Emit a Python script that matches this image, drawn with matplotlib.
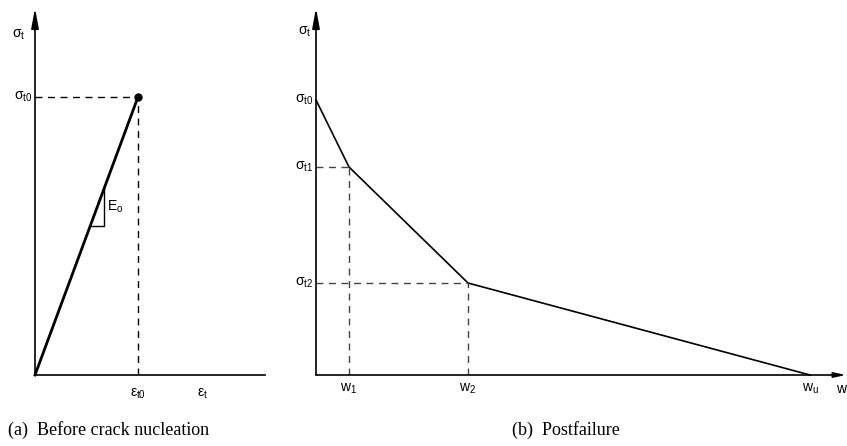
import matplotlib.pyplot as plt

plt.rcParams['mathtext.fontset'] = 'custom'
plt.rcParams['mathtext.rm'] = 'Liberation Sans'
plt.rcParams['mathtext.it'] = 'Liberation Sans'

W, H = 847, 446

# (a) linear branch before crack nucleation
eps_a = [0, 1.0]
sig_a = [0, 1.0]

# (b) trilinear softening curve (crack opening w vs stress)
w_b = [0, 33, 152, 494]
sig_b = [275, 208, 92, 0]
w_labels = [r'$\mathrm{w}_1$', r'$\mathrm{w}_2$', r'$\mathrm{w}_u$']
sig_labels = [r'$\sigma_{t0}$', r'$\sigma_{t1}$', r'$\sigma_{t2}$']

fig = plt.figure(figsize=(W / 100, H / 100), dpi=100)


def px_axes(x0, x1, y_top, y_bot):
	# axes placed by pixel box, origin at lower left
	return fig.add_axes([x0 / W, 1 - y_bot / H, (x1 - x0) / W, (y_bot - y_top) / H])


def draw_axes(ax, xmax, ymax, xarrow):
	ax.set_xlim(0, xmax)
	ax.set_ylim(0, ymax)
	ax.axis('off')
	ax.annotate('', xy=(0, ymax), xytext=(0, 0),
		arrowprops=dict(arrowstyle='-|>,head_length=1.2,head_width=0.22', color='black', lw=1.2, shrinkA=0, shrinkB=0),
		annotation_clip=False)
	if xarrow:
		ax.annotate('', xy=(xmax, 0), xytext=(0, 0),
			arrowprops=dict(arrowstyle='-|>,head_length=0.7,head_width=0.15', color='black', lw=1.2, shrinkA=0, shrinkB=0),
			annotation_clip=False)
	else:
		ax.plot([0, xmax], [0, 0], color='black', lw=1.2, clip_on=False)


fs = 10

# ---- panel (a)
ax1 = px_axes(35, 265, 8, 375)
xmax_a = 230 / 103.0
ymax_a = 367 / 278.0
draw_axes(ax1, xmax_a, ymax_a, False)
ax1.plot(eps_a, sig_a, color='black', lw=2.0, clip_on=False)
ax1.plot(eps_a[1], sig_a[1], 'o', color='black', ms=5, clip_on=False)
ax1.plot([0, eps_a[1]], [sig_a[1], sig_a[1]], '--', color='black', lw=1.0, dashes=(5, 4))
ax1.plot([eps_a[1], eps_a[1]], [0, sig_a[1]], '--', color='black', lw=1.0, dashes=(5, 4))
# stiffness triangle
t0, t1 = 149 / 278.0, 187 / 278.0
ax1.plot([t0 * eps_a[1], t1 * eps_a[1], t1 * eps_a[1]], [t0, t0, t1], color='black', lw=1.0)
ax1.text(t1 * eps_a[1] + 0.03, (t0 + t1) / 2, r'$\mathrm{E}_o$', fontsize=fs, va='center', ha='left')
ax1.text(-0.09, 0.98 * ymax_a - 0.07, r'$\sigma_t$', fontsize=fs, ha='right', va='center')
ax1.text(-0.03, sig_a[1], r'$\sigma_{t0}$', fontsize=fs, ha='right', va='center')
ax1.text(eps_a[1], -0.04, r'$\varepsilon_{t0}$', fontsize=fs, ha='center', va='top')
ax1.text(1.63, -0.04, r'$\varepsilon_t$', fontsize=fs, ha='center', va='top')

# ---- panel (b)
ax2 = px_axes(316, 846, 8, 375)
draw_axes(ax2, 530, 367, True)
ax2.plot(w_b, sig_b, color='black', lw=1.2, clip_on=False)
for wi, si in zip(w_b[1:3], sig_b[1:3]):
	ax2.plot([0, wi], [si, si], color='#444444', lw=1.0, dashes=(5, 4))
	ax2.plot([wi, wi], [0, si], color='#444444', lw=1.0, dashes=(5, 4))
for si, lab in zip(sig_b[:3], sig_labels):
	ax2.text(-3, si, lab, fontsize=fs, ha='right', va='center')
for wi, lab in zip(w_b[1:], w_labels):
	ax2.text(wi, -7, lab, fontsize=fs, ha='center', va='top')
ax2.text(520, -7, r'$\mathrm{w}$', fontsize=fs, ha='left', va='top')
ax2.text(-5, 343, r'$\sigma_t$', fontsize=fs, ha='right', va='center')

# captions
fig.text(8 / W, 1 - 430 / H, '(a)  Before crack nucleation', family='Liberation Serif', fontsize=13, va='center')
fig.text(512 / W, 1 - 430 / H, '(b)  Postfailure', family='Liberation Serif', fontsize=13, va='center')

fig.savefig('out.png', dpi=100)
